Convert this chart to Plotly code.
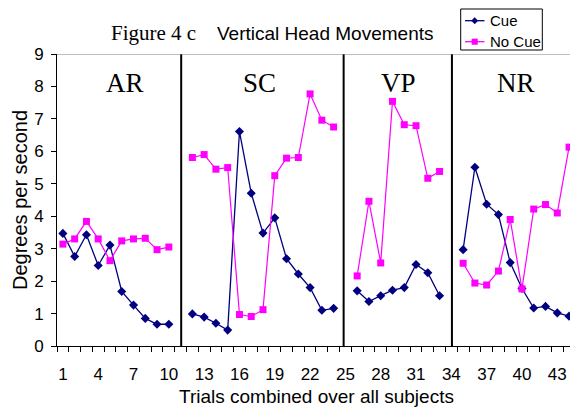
import plotly.graph_objects as go

# ---- data ----
trial = list(range(1, 45))
cue = [3.47, 2.76, 3.43, 2.48, 3.11, 1.68, 1.26, 0.85, 0.67, 0.67, None,
       0.99, 0.89, 0.70, 0.49, 6.61, 4.71, 3.48, 3.95, 2.69, 2.22, 1.80, 1.10, 1.16, None,
       1.70, 1.37, 1.55, 1.72, 1.80, 2.51, 2.26, 1.55, None,
       2.97, 5.51, 4.37, 4.05, 2.57, 1.77, 1.17, 1.22, 1.02, 0.92]
no_cue = [3.14, 3.30, 3.84, 3.30, 2.63, 3.24, 3.30, 3.32, 2.97, 3.05, None,
          5.81, 5.90, 5.45, 5.50, 0.97, 0.91, 1.12, 5.25, 5.79, 5.81, 7.77, 6.96, 6.75, None,
          2.16, 4.46, 2.56, 7.54, 6.82, 6.79, 5.17, 5.38, None,
          2.55, 1.94, 1.88, 2.31, 3.90, 1.76, 4.22, 4.36, 4.10, 6.13]
tick_labels = list(range(1, 44, 3))
group_names = ["AR", "SC", "VP", "NR"]
group_label_x = [6.3, 17.7, 29.5, 39.5]
divider_x = [11.05, 24.85, 34.05]
series_names = ["Cue", "No Cue"]
series_colors = ["#000080", "#FF00FF"]

SANS = "Liberation Sans, Arial, sans-serif"
SERIF = "Liberation Serif, Times New Roman, serif"

# body margin is removed by the post script, so figure pixels = window pixels
OFF = 0
FW, FH = 570, 409
L, T, R, B = 57, 54, 570, 346


def px(wx):
    return (wx - OFF - L) / (R - L)


def py(wy):
    return (B - (wy - OFF)) / (B - T)


fig = go.Figure()
fig.add_trace(go.Scatter(
    x=trial, y=cue, name=series_names[0], mode="lines+markers", connectgaps=False,
    line=dict(color=series_colors[0], width=1.3),
    marker=dict(symbol="diamond", size=7, color=series_colors[0])))
fig.add_trace(go.Scatter(
    x=trial, y=no_cue, name=series_names[1], mode="lines+markers", connectgaps=False,
    line=dict(color=series_colors[1], width=1.2),
    marker=dict(symbol="square", size=7, color=series_colors[1])))

shapes = []
for dx in divider_x:
    shapes.append(dict(type="line", xref="x", yref="y", x0=dx, x1=dx, y0=-0.17, y1=9.03,
                       line=dict(color="black", width=2)))
shapes.append(dict(type="line", xref="paper", yref="y", x0=0, x1=1, y0=9, y1=9,
                   line=dict(color="#808080", width=1)))

# legend box (drawn manually to match the compact Excel legend)
shapes.append(dict(type="rect", xref="paper", yref="paper",
                   x0=px(460.7), x1=px(542.3), y0=py(50), y1=py(9),
                   line=dict(color="black", width=1), fillcolor="white", layer="above"))
annotations = []
leg_rows = [20.7, 41.7]
for i, (nm, col, wy) in enumerate(zip(series_names, series_colors, leg_rows)):
    shapes.append(dict(type="line", xref="paper", yref="paper",
                       x0=px(465), x1=px(484.5), y0=py(wy), y1=py(wy),
                       line=dict(color=col, width=1.3), layer="above"))
    cx, h = 474.7, 3.2
    if i == 0:
        path = "M {},{} L {},{} L {},{} L {},{} Z".format(
            px(cx - h), py(wy), px(cx), py(wy - h), px(cx + h), py(wy), px(cx), py(wy + h))
        shapes.append(dict(type="path", xref="paper", yref="paper", path=path,
                           fillcolor=col, line=dict(color=col, width=0.5), layer="above"))
    else:
        shapes.append(dict(type="rect", xref="paper", yref="paper",
                           x0=px(cx - 2.8), x1=px(cx + 2.8), y0=py(wy + 2.8), y1=py(wy - 2.8),
                           fillcolor=col, line=dict(color=col, width=0.5), layer="above"))
    annotations.append(dict(x=px(487.5), y=py(wy), xref="paper", yref="paper",
                            xanchor="left", yanchor="middle", text=nm, showarrow=False,
                            font=dict(family=SANS, size=15, color="black")))

for name, gx in zip(group_names, group_label_x):
    annotations.append(dict(x=gx, y=8.12, xref="x", yref="y", text=name, showarrow=False,
                            font=dict(family=SERIF, size=27, color="black")))
annotations.append(dict(x=px(109), y=py(33), xref="paper", yref="paper", xanchor="left",
                        yanchor="middle", text="Figure 4 c", showarrow=False,
                        font=dict(family=SERIF, size=21, color="black")))
annotations.append(dict(x=px(214.5), y=py(33), xref="paper", yref="paper", xanchor="left",
                        yanchor="middle", text="Vertical Head Movements", showarrow=False,
                        font=dict(family=SANS, size=19, color="black")))
annotations.append(dict(x=px(316.5), y=py(396), xref="paper", yref="paper", xanchor="center",
                        yanchor="middle", text="Trials combined over all subjects",
                        showarrow=False, font=dict(family=SANS, size=19, color="black")))
annotations.append(dict(x=px(20), y=py(200), xref="paper", yref="paper", xanchor="center",
                        yanchor="middle", text="Degrees per second", textangle=-90,
                        showarrow=False, font=dict(family=SANS, size=20, color="black")))

fig.update_layout(
    width=FW, height=FH,
    margin=dict(l=L, r=FW - R, t=T, b=FH - B),
    paper_bgcolor="white", plot_bgcolor="white",
    font=dict(family=SANS, color="black"),
    showlegend=False,
    shapes=shapes, annotations=annotations,
    xaxis=dict(range=[0.5, 44.08], tickmode="array", tickvals=tick_labels,
               ticktext=[str(t) for t in tick_labels], ticks="",
               showline=True, linecolor="black", linewidth=1,
               showgrid=False, zeroline=False, ticklabelstandoff=13,
               tickfont=dict(family=SANS, size=17, color="black"),
               minor=dict(tick0=0.5, dtick=1, ticks="outside", ticklen=5,
                          tickcolor="black", tickwidth=1, showgrid=False)),
    yaxis=dict(range=[0, 9], tickmode="linear", tick0=0, dtick=1,
               ticks="outside", ticklen=5, tickcolor="black",
               showline=True, linecolor="black", linewidth=1,
               showgrid=False, zeroline=False, ticklabelstandoff=4,
               tickfont=dict(family=SANS, size=17, color="black")),
)

fig.write_html(
    "out.html",
    config={"displayModeBar": False},
    post_script=("document.documentElement.style.margin='0';"
                 "document.body.style.margin='0';"
                 "document.documentElement.style.overflow='hidden';"
                 "document.body.style.overflow='hidden';"))
